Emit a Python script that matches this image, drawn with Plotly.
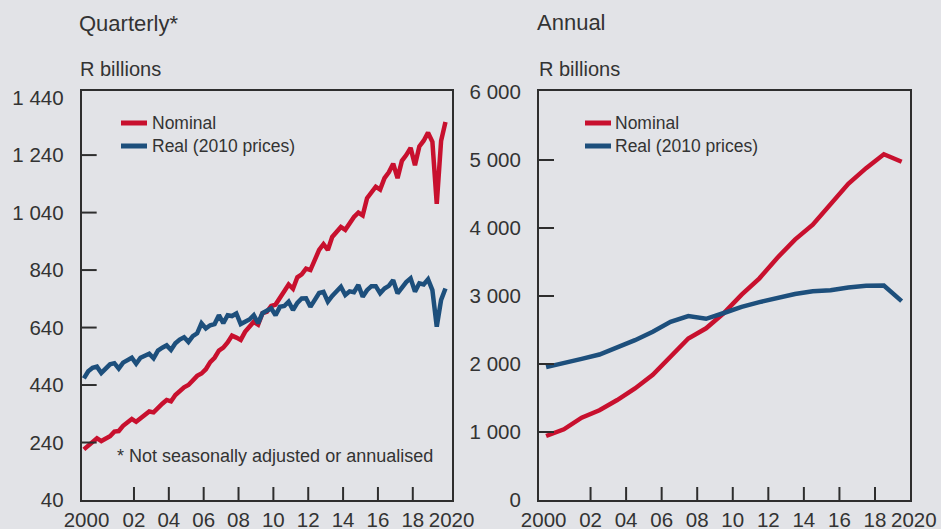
import plotly.graph_objects as go

# ---------------- data ----------------
years = list(range(2000, 2021))

# Quarterly, not seasonally adjusted (R billions), 2000Q1 .. 2020Q4
q_nominal = [
    216, 230, 240, 255,     # 2000
    245, 255, 262, 278,     # 2001
    280, 298, 310, 322,     # 2002
    312, 325, 335, 348,     # 2003
    345, 362, 375, 388,     # 2004
    383, 405, 420, 432,     # 2005
    440, 458, 472, 480,     # 2006
    495, 520, 535, 560,     # 2007
    570, 588, 612, 605,     # 2008
    597, 625, 643, 660,     # 2009
    650, 690, 695, 715,     # 2010
    720, 745, 765, 790,     # 2011
    775, 815, 825, 845,     # 2012
    840, 880, 910, 930,     # 2013
    910, 955, 975, 990,     # 2014
    980, 1005, 1025, 1040,  # 2015
    1030, 1090, 1110, 1130, # 2016
    1120, 1160, 1180, 1210, # 2017
    1160, 1220, 1240, 1265, # 2018
    1205, 1270, 1290, 1318, # 2019
    1286, 1070, 1290, 1355, # 2020
]
q_real = [
    463, 488, 500, 504,  # 2000
    482, 500, 512, 516,  # 2001
    497, 518, 525, 535,  # 2002
    514, 535, 542, 549,  # 2003
    533, 560, 570, 578,  # 2004
    562, 585, 598, 606,  # 2005
    590, 610, 620, 655,  # 2006
    637, 648, 652, 683,  # 2007
    655, 683, 680, 689,  # 2008
    652, 662, 668, 683,  # 2009
    655, 690, 698, 707,  # 2010
    683, 712, 715, 730,  # 2011
    701, 726, 741, 742,  # 2012
    712, 740, 760, 764,  # 2013
    730, 750, 765, 782,  # 2014
    753, 766, 763, 788,  # 2015
    747, 770, 784, 784,  # 2016
    759, 776, 785, 805,  # 2017
    759, 782, 798, 811,  # 2018
    765, 794, 790, 808,  # 2019
    770, 643, 736, 776,  # 2020
]
quarters = [1, 2, 3, 4]

# Annual (R billions)
a_nominal = [941, 1040, 1210, 1320, 1470, 1640, 1840, 2110, 2375, 2525, 2750,
             3020, 3260, 3560, 3830, 4050, 4360, 4650, 4880, 5085, 4975]
a_real = [1955, 2010, 2075, 2140, 2240, 2350, 2475, 2620, 2705, 2665, 2750,
          2840, 2910, 2975, 3030, 3070, 3085, 3125, 3150, 3155, 2925]

x_tick_years = [2002, 2004, 2006, 2008, 2010, 2012, 2014, 2016, 2018]
x_tick_text = ["02", "04", "06", "08", "10", "12", "14", "16", "18"]
q_y_ticks = [40, 240, 440, 640, 840, 1040, 1240, 1440]
a_y_ticks = [0, 1000, 2000, 3000, 4000, 5000, 6000]

series_names = ["Nominal", "Real (2010 prices)"]

# ---------------- style ----------------
W, H = 941, 529
BG = "#E2E3E7"
TXT = "#333333"
RED = "#C8102E"
BLUE = "#1D4F7C"
AX = "#2E2E2E"
FONT = "Liberation Sans, Arial, Helvetica, sans-serif"
FS_TICK = 20.5
FS_TITLE = 22
FS_UNIT = 20
FS_SMALL = 18
FS_LEG = 17.5
LW = 4.5

def px_x(p):
    return p / W

def px_y(p):
    return 1 - p / H

L_DOM = [px_x(81.7), px_x(452)]
R_DOM = [px_x(539), px_x(910)]
Y_DOM = [px_y(500), px_y(91)]

def fmt(v):
    return f"{v:,}".replace(",", " ")

q_x = [y + (q - 1) / 4 for y in years for q in quarters]

fig = go.Figure()
fig.add_trace(go.Scatter(x=q_x, y=q_nominal, mode="lines", name=series_names[0],
                         line=dict(color=RED, width=LW), xaxis="x", yaxis="y", showlegend=False))
fig.add_trace(go.Scatter(x=q_x, y=q_real, mode="lines", name=series_names[1],
                         line=dict(color=BLUE, width=LW), xaxis="x", yaxis="y", showlegend=False))
fig.add_trace(go.Scatter(x=years, y=a_nominal, mode="lines", name=series_names[0],
                         line=dict(color=RED, width=LW), xaxis="x2", yaxis="y2", showlegend=False))
fig.add_trace(go.Scatter(x=years, y=a_real, mode="lines", name=series_names[1],
                         line=dict(color=BLUE, width=LW), xaxis="x2", yaxis="y2", showlegend=False))

q_xrange = [1999.875, 2021.125]
a_xrange = [1999.6, 2020.47]

axis_common = dict(showline=True, mirror=True, linecolor=AX, linewidth=2,
                   showgrid=False, zeroline=False, ticks="", automargin=False,
                   tickangle=0,
                   tickfont=dict(family=FONT, size=FS_TICK, color=TXT))

fig.update_layout(
    width=W, height=H,
    margin=dict(l=0, r=0, t=0, b=0, pad=0),
    paper_bgcolor=BG, plot_bgcolor=BG,
    font=dict(family=FONT, size=FS_TICK, color=TXT),
    xaxis=dict(domain=L_DOM, range=q_xrange, anchor="y",
               tickmode="array",
               tickvals=[2000.15] + [y + 0.875 for y in x_tick_years] + [2021.1],
               ticktext=["2000"] + x_tick_text + ["2020"],
               ticklabelstandoff=0, **axis_common),
    yaxis=dict(domain=Y_DOM, range=[40, 1463], anchor="x",
               tickmode="array", tickvals=q_y_ticks,
               ticktext=[fmt(v) for v in q_y_ticks],
               ticklabelstandoff=12, **axis_common),
    xaxis2=dict(domain=R_DOM, range=a_xrange, anchor="y2",
                tickmode="array",
                tickvals=[1999.86] + [y + 0.5 for y in x_tick_years],
                ticktext=["2000"] + x_tick_text,
                ticklabelstandoff=0, **axis_common),
    yaxis2=dict(domain=Y_DOM, range=[0, 6015], anchor="x2",
                tickmode="array", tickvals=a_y_ticks,
                ticktext=[fmt(v) for v in a_y_ticks],
                ticklabelstandoff=12, **axis_common),
)

shapes = []
# inside tick marks
for xa, ya, offs in (("x", "y", 0.875), ("x2", "y2", 0.5)):
    for y in x_tick_years:
        shapes.append(dict(type="line", xref=xa, yref=f"{ya} domain",
                           x0=y + offs, x1=y + offs, y0=0, y1=13 / 409,
                           line=dict(color=AX, width=2)))
for xa, ya, vals in (("x", "y", q_y_ticks[1:-1]), ("x2", "y2", a_y_ticks[1:-1])):
    for v in vals:
        shapes.append(dict(type="line", xref=f"{xa} domain", yref=ya,
                           x0=0, x1=15 / 371, y0=v, y1=v,
                           line=dict(color=AX, width=2)))

annotations = []
def add_text(txt, x, y, size, anchor="left"):
    annotations.append(dict(text=txt, xref="paper", yref="paper",
                            x=px_x(x), y=px_y(y), xanchor=anchor, yanchor="middle",
                            showarrow=False, font=dict(family=FONT, size=size, color=TXT)))

add_text("Quarterly*", 77, 24, FS_TITLE)
add_text("R billions", 78, 69, FS_UNIT)
add_text("Annual", 535, 23, FS_TITLE)
add_text("R billions", 537, 69, FS_UNIT)
add_text("* Not seasonally adjusted or annualised", 115, 456, FS_SMALL)
# last year label of the annual axis sits just past the frame
add_text("2020", 914, 519, FS_TICK, anchor="center")

# legends
for lx, tx in ((121, 150), (585, 613)):
    for (ly, col, name) in ((123, RED, series_names[0]), (146, BLUE, series_names[1])):
        shapes.append(dict(type="line", xref="paper", yref="paper",
                           x0=px_x(lx), x1=px_x(lx + 26), y0=px_y(ly), y1=px_y(ly),
                           line=dict(color=col, width=5)))
        add_text(name, tx, ly, FS_LEG)

fig.update_layout(shapes=shapes, annotations=annotations)
fig.write_html("out.html", config={"displayModeBar": False},
               post_script="document.body.style.margin='0';document.body.style.overflow='hidden';")
